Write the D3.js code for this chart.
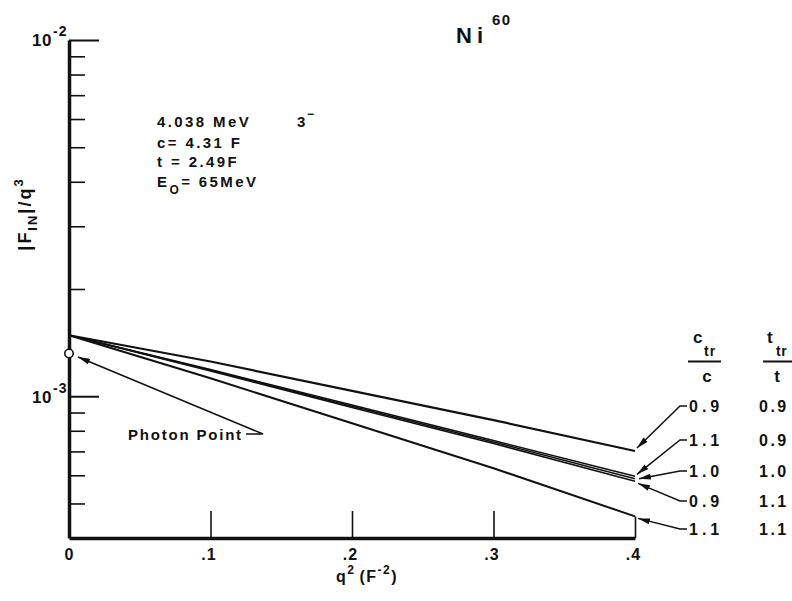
<!DOCTYPE html>
<html lang="en">
<head>
<meta charset="UTF-8">
<title>Ni60 inelastic form factor</title>
<style>
  body { margin: 0; background: #fff; }
  svg { display: block; background: #fff; }
  text { font-family: "Liberation Sans", Arial, sans-serif; font-weight: bold; fill: #111; }
</style>
</head>
<body>
<svg id="chart" width="792" height="601"></svg>
<script src="https://d3js.org/d3.v7.min.js"></script>
<script>
const qSq = [0, 0.1, 0.2, 0.3, 0.4];

// |F_IN|/q^3 for each (c_tr/c, t_tr/t) pair
const fin_09_09 = [1.483e-3, 1.252e-3, 1.035e-3, 8.57e-4, 7.02e-4];
const fin_11_09 = [1.483e-3, 1.188e-3, 9.45e-4, 7.51e-4, 5.96e-4];
const fin_10_10 = [1.483e-3, 1.183e-3, 9.37e-4, 7.44e-4, 5.87e-4];
const fin_09_11 = [1.483e-3, 1.178e-3, 9.30e-4, 7.37e-4, 5.77e-4];
const fin_11_11 = [1.483e-3, 1.123e-3, 8.40e-4, 6.28e-4, 4.60e-4];

const ctrOverC = ["0.9", "1.1", "1.0", "0.9", "1.1"];
const ttrOverT = ["0.9", "0.9", "1.0", "1.1", "1.1"];

const photonPoint = 1.318e-3;

const yMajorTicks = [1e-2, 1e-3];
const yMinorTicks = [9e-3, 8e-3, 7e-3, 6e-3, 5e-3, 4e-3, 3e-3, 2e-3, 9e-4, 8e-4, 7e-4, 6e-4, 5e-4];
const xTickValues = [0, 0.1, 0.2, 0.3, 0.4];
const xTickLabels = ["0", ".1", ".2", ".3", ".4"];

const svg = d3.select("#chart");

const x = d3.scaleLinear().domain([0, 0.4]).range([69, 635]);
const y = d3.scaleLog().domain([4e-4, 1e-2]).range([538, 40]);

// arrow head
svg.append("defs").append("marker")
    .attr("id", "arrow")
    .attr("markerUnits", "userSpaceOnUse")
    .attr("viewBox", "0 0 12 6")
    .attr("refX", 12).attr("refY", 3)
    .attr("markerWidth", 12).attr("markerHeight", 6)
    .attr("orient", "auto")
    .append("path")
    .attr("d", "M0,0 L12,3 L0,6 Z")
    .attr("fill", "#111");

// y axis (ticks point into the plot)
const yAxisMajor = svg.append("g")
    .attr("transform", `translate(${x(0)},0)`)
    .call(d3.axisRight(y).tickValues(yMajorTicks).tickSizeInner(30).tickSizeOuter(0).tickFormat(""));
yAxisMajor.select(".domain").attr("stroke", "#111").attr("stroke-width", 3.5);
yAxisMajor.selectAll(".tick line").attr("stroke", "#111").attr("stroke-width", 2);

const yAxisMinor = svg.append("g")
    .attr("transform", `translate(${x(0)},0)`)
    .call(d3.axisRight(y).tickValues(yMinorTicks).tickSizeInner(16).tickSizeOuter(0).tickFormat(""));
yAxisMinor.select(".domain").remove();
yAxisMinor.selectAll(".tick line").attr("stroke", "#111").attr("stroke-width", 1.6);

// y tick labels 10^-2, 10^-3
const yLabelExp = ["-2", "-3"];
yMajorTicks.forEach((v, i) => {
    svg.append("text")
        .attr("x", 52).attr("y", y(v) + (i === 0 ? 6 : 7))
        .attr("text-anchor", "end")
        .attr("font-size", 17)
        .attr("letter-spacing", 0.5)
        .text("10");
    svg.append("text")
        .attr("x", 53).attr("y", y(v) + (i === 0 ? -4 : -3))
        .attr("font-size", 14)
        .attr("letter-spacing", 1)
        .text(yLabelExp[i]);
});

// x axis (ticks pointing up, labels below)
const xAxis = svg.append("g")
    .attr("transform", `translate(0,${y(4e-4)})`)
    .call(d3.axisBottom(x).tickValues(xTickValues)
        .tickSizeInner(-27).tickSizeOuter(0).tickPadding(11)
        .tickFormat((d, i) => xTickLabels[i]));
xAxis.select(".domain").attr("stroke", "#111").attr("stroke-width", 3.5);
xAxis.selectAll(".tick line").attr("stroke", "#111").attr("stroke-width", 1.6);
xAxis.selectAll(".tick text")
    .attr("fill", "#111")
    .attr("font-size", 16)
    .attr("font-family", "'Liberation Sans', Arial, sans-serif")
    .attr("font-weight", "bold")
    .attr("letter-spacing", 1)
    .attr("dx", (d, i) => i === 0 ? 0 : -2);
xAxis.selectAll(".tick").filter(d => d === 0).select("line").remove();
// the 0.4 tick runs up to the end of the lowest curve
xAxis.selectAll(".tick").filter(d => d === 0.4).select("line")
    .attr("y2", y(fin_11_11[4]) - y(4e-4));

// x axis title
const xTitle = svg.append("text")
    .attr("x", 336).attr("y", 582)
    .attr("font-size", 16)
    .attr("letter-spacing", 1.5);
xTitle.append("tspan").text("q");
xTitle.append("tspan").attr("dy", -8).attr("font-size", 12).text("2");
xTitle.append("tspan").attr("dy", 8).attr("dx", 4).text("(F");
xTitle.append("tspan").attr("dy", -8).attr("font-size", 12).text("-2");
xTitle.append("tspan").attr("dy", 8).text(")");

// y axis title
const yTitle = svg.append("text")
    .attr("transform", "translate(31,214) rotate(-90)")
    .attr("text-anchor", "middle")
    .attr("font-size", 18)
    .attr("letter-spacing", 2);
yTitle.append("tspan").text("|F");
yTitle.append("tspan").attr("dy", 6).attr("font-size", 13).text("IN");
yTitle.append("tspan").attr("dy", -6).text("|/q");
yTitle.append("tspan").attr("dy", -8).attr("font-size", 13).text("3");

// title
svg.append("text")
    .attr("x", 456).attr("y", 43)
    .attr("font-size", 22)
    .attr("letter-spacing", 5)
    .text("Ni");
svg.append("text")
    .attr("x", 492).attr("y", 25)
    .attr("font-size", 15)
    .attr("letter-spacing", 1.5)
    .text("60");

// parameter block
const note = svg.append("g").attr("font-size", 15);
note.append("text").attr("x", 157).attr("y", 127).attr("letter-spacing", 2.4).text("4.038 MeV");
note.append("text").attr("x", 297).attr("y", 127).text("3");
note.append("text").attr("x", 307).attr("y", 118).attr("font-size", 12).text("\u2212");
note.append("text").attr("x", 157).attr("y", 148).attr("letter-spacing", 2.4).text("c= 4.31 F");
note.append("text").attr("x", 157).attr("y", 167).attr("letter-spacing", 2.4).text("t = 2.49F");
const e0 = note.append("text").attr("x", 157).attr("y", 187).attr("letter-spacing", 2.4);
e0.append("tspan").text("E");
e0.append("tspan").attr("dy", 7).attr("font-size", 12).text("O");
e0.append("tspan").attr("dy", -7).text("= 65MeV");

// curves
const curves = [fin_09_09, fin_11_09, fin_10_10, fin_09_11, fin_11_11];
const curveWidth = [2.2, 1.6, 1.6, 1.6, 2];
const line = d3.line().x(d => x(d[0])).y(d => y(d[1]));
curves.forEach((vals, i) => {
    svg.append("path")
        .datum(qSq.map((q, j) => [q, vals[j]]))
        .attr("d", line)
        .attr("fill", "none")
        .attr("stroke", "#111")
        .attr("stroke-width", curveWidth[i]);
});

// photon point
svg.append("circle")
    .attr("cx", x(0)).attr("cy", y(photonPoint))
    .attr("r", 4.2)
    .attr("fill", "#fff")
    .attr("stroke", "#111")
    .attr("stroke-width", 1.6);
svg.append("text")
    .attr("x", 128).attr("y", 440)
    .attr("font-size", 15)
    .attr("letter-spacing", 1.8)
    .text("Photon Point");
svg.append("polyline")
    .attr("points", [[246, 434], [263, 434], [x(0) + 9, y(photonPoint) + 3.5]].join(" "))
    .attr("fill", "none")
    .attr("stroke", "#111")
    .attr("stroke-width", 1.5)
    .attr("marker-end", "url(#arrow)");

// legend header: c_tr / c and t_tr / t
const hdr = svg.append("g").attr("font-size", 17);
hdr.append("text").attr("x", 693).attr("y", 343).text("c");
hdr.append("text").attr("x", 704).attr("y", 356).attr("font-size", 14).attr("letter-spacing", 1).text("tr");
hdr.append("line").attr("x1", 688).attr("x2", 721).attr("y1", 361.5).attr("y2", 361.5)
    .attr("stroke", "#111").attr("stroke-width", 2);
hdr.append("text").attr("x", 707).attr("y", 382).attr("text-anchor", "middle").text("c");
hdr.append("text").attr("x", 767).attr("y", 343).text("t");
hdr.append("text").attr("x", 776).attr("y", 356).attr("font-size", 14).attr("letter-spacing", 0.5).text("tr");
hdr.append("line").attr("x1", 763).attr("x2", 792).attr("y1", 361.5).attr("y2", 361.5)
    .attr("stroke", "#111").attr("stroke-width", 2);
hdr.append("text").attr("x", 777).attr("y", 382).attr("text-anchor", "middle").text("t");

// legend rows with leaders to the curve ends
const rowY = [406, 440, 471, 501, 529];
const tipOffset = [[2, -3], [2, -2], [4, 0], [3, 2], [3, 2]];
curves.forEach((vals, i) => {
    svg.append("text")
        .attr("x", 689).attr("y", rowY[i] + 6)
        .attr("font-size", 16)
        .attr("letter-spacing", 4)
        .text(ctrOverC[i]);
    svg.append("text")
        .attr("x", 759).attr("y", rowY[i] + 6)
        .attr("font-size", 16)
        .attr("letter-spacing", 2.5)
        .text(ttrOverT[i]);
    const tip = [x(0.4) + tipOffset[i][0], y(vals[4]) + tipOffset[i][1]];
    svg.append("polyline")
        .attr("points", [[687, rowY[i]], [680, rowY[i]], tip].join(" "))
        .attr("fill", "none")
        .attr("stroke", "#111")
        .attr("stroke-width", 1.5)
        .attr("marker-end", "url(#arrow)");
});
</script>
</body>
</html>
